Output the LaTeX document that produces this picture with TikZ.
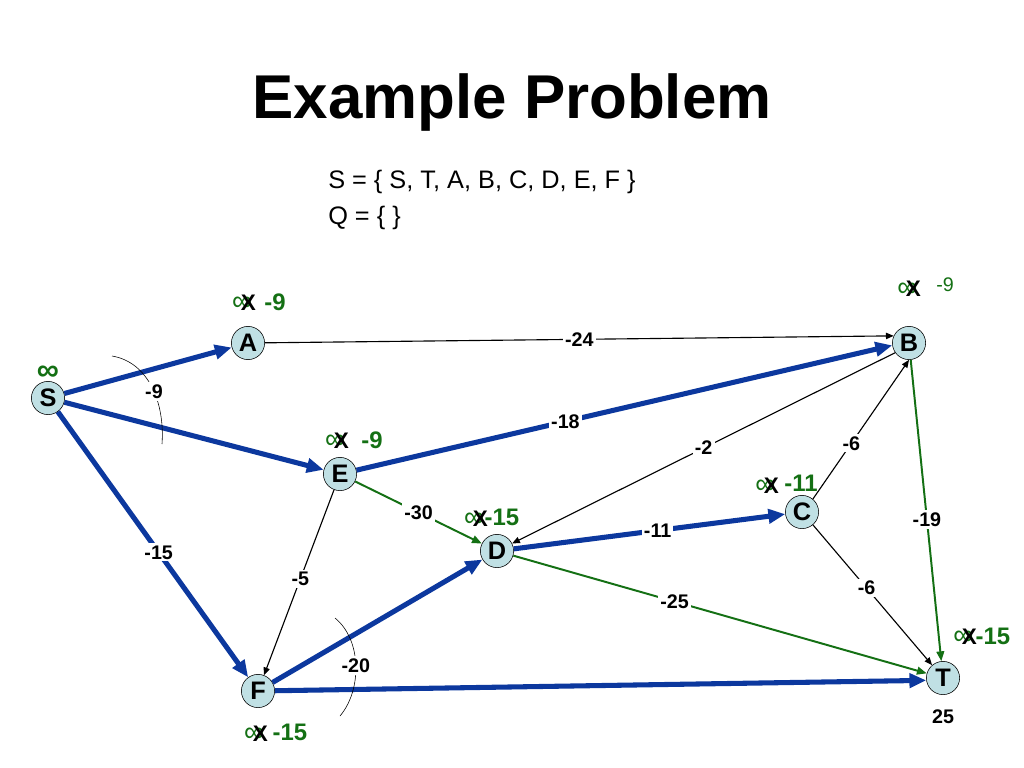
\documentclass[tikz,border=0pt]{standalone}
\usepackage{fontspec}
\setmainfont{Liberation Sans}
\usetikzlibrary{arrows.meta,positioning}
\definecolor{pathblue}{RGB}{12,56,158}
\definecolor{grn}{RGB}{20,112,20}
\definecolor{nodefill}{RGB}{192,224,228}
\newcommand{\infx}{{\color{grn}\fontsize{20}{20}\selectfont\mdseries ∞}\kern-8.2pt X}

\begin{document}
\begin{tikzpicture}[x = 0.025cm, y = -0.025cm,
        vertex/.style = {circle, draw, fill = nodefill, minimum size = 0.83cm,
                         inner sep = 0pt, font = \fontsize{18}{18}\selectfont\bfseries},
        best/.style = {draw = pathblue, line width = 3.6pt,
                       -{Triangle[length = 12pt, width = 10pt]}},
        plain/.style = {draw, line width = 0.8pt,
                        -{Triangle[length = 5.5pt, width = 4.5pt]}},
        relax/.style = {draw = grn, line width = 1.4pt,
                        -{Triangle[length = 7pt, width = 5.5pt]}},
        wt/.style = {fill = white, inner sep = 1.5pt,
                     font = \fontsize{14}{14}\selectfont\bfseries},
        cross/.style = {inner sep = 0pt, font = \fontsize{16}{16}\selectfont\bfseries},
        dist/.style = {inner sep = 0pt, text = grn,
                       font = \fontsize{17}{17}\selectfont\bfseries}]
        \useasboundingbox (0,0) rectangle (1024,768);

        \node[anchor = base, inner sep = 0pt, font = \fontsize{44}{44}\selectfont\bfseries]
              (title) at (512,119) {Example Problem};
        \node[anchor = base west, inner sep = 0pt, font = \fontsize{18}{18}\selectfont]
              (setS) at (328,188) {S = \{ S, T, A, B, C, D, E, F \}};
        \node[anchor = base west, inner sep = 0pt, font = \fontsize{18}{18}\selectfont]
              (setQ) at (328,224) {Q = \{ \}};

        \node[vertex] (S) at (48,398) {S};
        \node[vertex] (A) at (248,343) {A};
        \node[vertex] (B) at (909,343) {B};
        \node[vertex] (E) at (340,474) {E};
        \node[vertex] (D) at (497,551) {D};
        \node[vertex] (C) at (802,512) {C};
        \node[vertex] (F) at (258,691) {F};
        \node[vertex] (T) at (943,678) {T};

        \draw[best] (S) -- (A);
        \draw[best] (S) -- (E);
        \draw[best] (S) -- node[wt, pos = 0.53] {-15} (F);
        \draw[plain] (A) -- node[wt] {-24} (B.155);
        \draw[best] (E) -- node[wt, pos = 0.39] {-18} (B.188);
        \draw[plain] (B.215) -- node[wt] {-2} (D);
        \draw[plain] (C.50) -- node[wt, pos = 0.4] {-6} (B.south);
        \draw[relax] (B) -- node[wt, pos = 0.53] {-19} (T);
        \draw[relax] (E) -- node[wt] {-30} (D);
        \draw[best] (D) -- node[wt, pos = 0.53] {-11} (C);
        \draw[plain] (C) -- node[wt, pos = 0.45] {-6} (T);
        \draw[relax] (D) -- node[wt, pos = 0.39] {-25} (T);
        \draw[plain] (E) -- node[wt, pos = 0.48] {-5} (F);
        \draw[best] (F) -- (D);
        \draw[best] (F) -- (T.188);

        \draw (112,356) .. controls (148,362) and (165,402) .. node[wt, pos = 0.55] {-9} (162,444);
        \draw (335,618) .. controls (362,640) and (362,690) .. node[wt] {-20} (340,716);

        \node[text = grn, inner sep = 0pt, font = \fontsize{22}{22}\selectfont\bfseries]
              (dS) at (48,373) {∞};
        \node[cross] (xA) at (244,303) {\infx};
        \node[dist] (dA) at (275,302) {-9};
        \node[cross] (xE) at (337,441) {\infx};
        \node[dist] (dE) at (372,440) {-9};
        \node[cross] (xD) at (476,519) {\infx};
        \node[dist] (dD) at (502,517) {-15};
        \node[cross] (xC) at (767,486) {\infx};
        \node[dist] (dC) at (801,483) {-11};
        \node[cross] (xB) at (909,289) {\infx};
        \node[dist, font = \fontsize{14}{14}\selectfont] (dB) at (945,285) {-9};
        \node[cross] (xT) at (965,637) {\infx};
        \node[dist] (dT) at (993,636) {-15};
        \node[cross] (xF) at (256,734) {\infx};
        \node[dist] (dF) at (290,732) {-15};
        \node[below = 0.25cm of T, font = \fontsize{14}{14}\selectfont\bfseries] (len) {25};
\end{tikzpicture}
\end{document}
